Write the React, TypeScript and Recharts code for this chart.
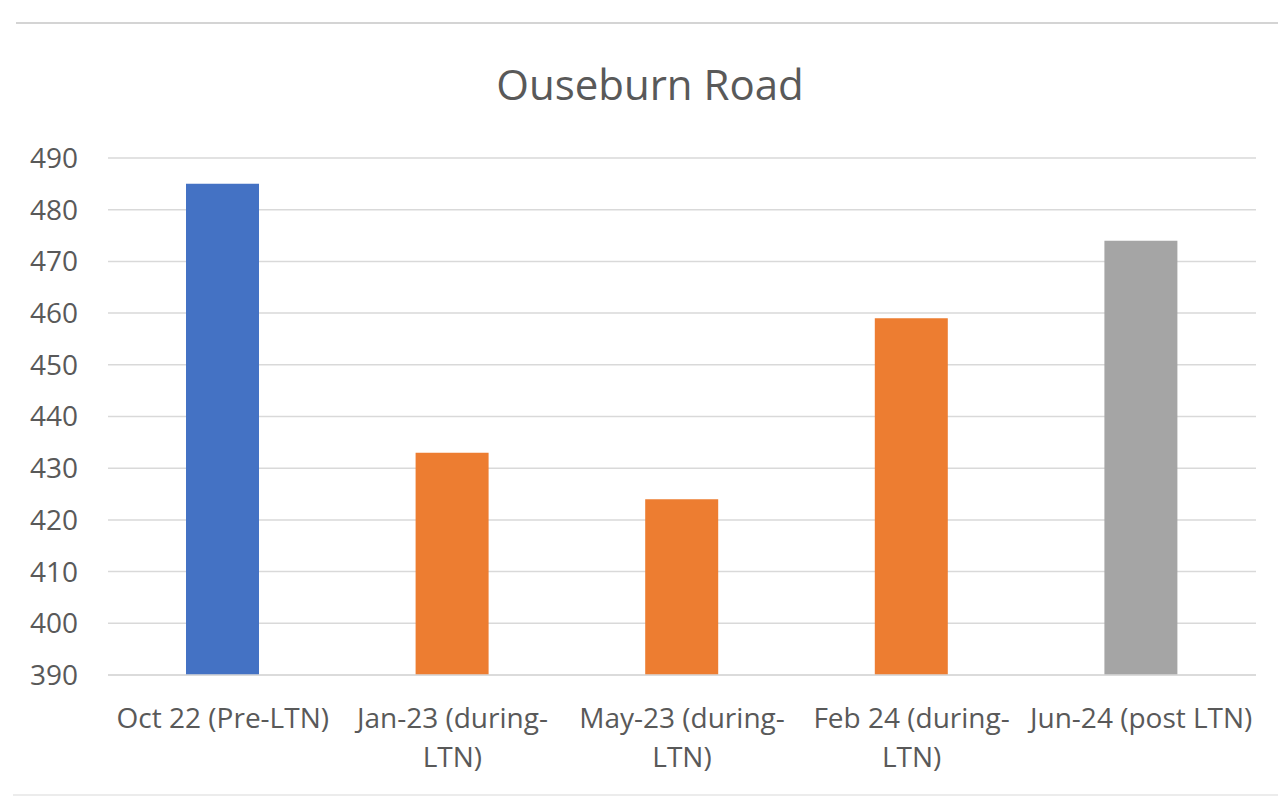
import { Bar, BarChart, CartesianGrid, Cell, XAxis, YAxis } from 'recharts';

// x labels, "\n" marks where the original wraps
const categories = [
  'Oct 22 (Pre-LTN)',
  'Jan-23 (during-\nLTN)',
  'May-23 (during-\nLTN)',
  'Feb 24 (during-\nLTN)',
  'Jun-24 (post LTN)',
];
const counts = [485, 433, 424, 459, 474];
const yTicks = [390, 400, 410, 420, 430, 440, 450, 460, 470, 480, 490];

const COLORS = ['#4472C4', '#ED7D31', '#ED7D31', '#ED7D31', '#A5A5A5'];
const TEXT = '#595959';
const FONT = '"Open Sans", sans-serif';

const data = categories.map((name, i) => ({ name, value: counts[i] }));

function XTick({ x, y, payload }: any) {
  const lines = String(payload.value).split('\n');
  return (
    <text
      x={x}
      y={y}
      textAnchor='middle'
      fill={TEXT}
      fontSize={28}
      fontFamily={FONT}
    >
      {lines.map((line, i) => (
        <tspan key={i} x={x} dy={i === 0 ? 53 : 39}>
          {line}
        </tspan>
      ))}
    </text>
  );
}

export default function App() {
  return (
    <div
      style={{
        position: 'absolute',
        left: 0,
        top: 0,
        width: 1278,
        height: 796,
        background: '#fff',
        fontFamily: FONT,
      }}
    >
      <div
        style={{
          position: 'absolute',
          left: 16,
          right: 0,
          top: 22,
          height: 2,
          background: '#d4d4d4',
        }}
      />
      <div
        style={{
          position: 'absolute',
          left: 13,
          right: 0,
          top: 794,
          height: 2,
          background: '#ececec',
        }}
      />
      <div
        style={{
          position: 'absolute',
          left: 0,
          width: 1300,
          top: 56,
          textAlign: 'center',
          fontSize: 42,
          lineHeight: '56px',
          color: TEXT,
        }}
      >
        Ouseburn Road
      </div>
      <BarChart
        width={1278}
        height={796}
        data={data}
        margin={{ top: 158, right: 22, bottom: 0, left: 0 }}
        style={{ position: 'absolute', left: 0, top: 0 }}
      >
        <CartesianGrid vertical={false} stroke='#d9d9d9' strokeWidth={1.5} />
        <YAxis
          width={108}
          domain={[390, 490]}
          ticks={yTicks}
          interval={0}
          axisLine={false}
          tickLine={false}
          tickSize={0}
          tickMargin={30}
          tick={{ fill: TEXT, fontSize: 28, fontFamily: FONT }}
        />
        <XAxis
          dataKey='name'
          height={121}
          interval={0}
          axisLine={{ stroke: '#d9d9d9', strokeWidth: 1.5 }}
          tickLine={false}
          tickSize={0}
          tickMargin={0}
          tick={<XTick />}
        />
        <Bar dataKey='value' barSize={73} isAnimationActive={false}>
          {data.map((_, idx) => (
            <Cell key={`cell-${idx}`} fill={COLORS[idx]} />
          ))}
        </Bar>
      </BarChart>
    </div>
  );
}
